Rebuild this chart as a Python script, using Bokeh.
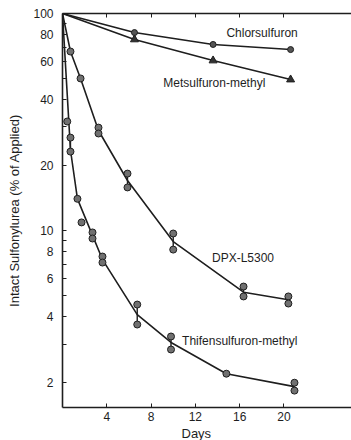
from bokeh.plotting import figure
from bokeh.models import FixedTicker, LinearAxis, Title, ColumnDataSource
from bokeh.core.properties import value
from bokeh.embed import file_html
from bokeh.resources import INLINE
import pandas as pd

FONT = "Liberation Sans"

# ---- data ----
chl_days = [6.5, 13.6, 20.6]
chl_vals = [81.7, 72.0, 68.2]
chl_line_days = [0, 6.5, 13.6, 20.6]
chl_line_vals = [100, 81.7, 72.0, 68.2]

met_days = [6.5, 13.6, 20.6]
met_vals = [75.9, 60.7, 49.6]
met_line_days = [0, 6.5, 13.6, 20.6]
met_line_vals = [100, 75.9, 60.7, 49.6]

dpx_days = [0.72, 1.63, 3.25, 3.25, 5.87, 5.87, 10.0, 10.0, 16.35, 16.35, 20.4, 20.4]
dpx_vals = [66.8, 50.2, 29.8, 28.0, 18.3, 15.8, 9.69, 8.17, 5.52, 4.97, 4.97, 4.61]
dpx_line_days = [0, 0.72, 1.63, 3.25, 5.87, 10.0, 16.35, 20.4]
dpx_line_vals = [100, 66.8, 50.2, 28.9, 17.0, 8.9, 5.2, 4.8]

thi_days = [0.43, 0.72, 0.72, 1.35, 1.72, 2.71, 2.71, 3.61, 3.61, 6.75, 6.75, 9.8, 9.8, 14.8, 20.95, 20.95]
thi_vals = [31.8, 26.8, 23.1, 14.0, 10.9, 9.8, 9.19, 7.59, 7.12, 4.56, 3.69, 3.25, 2.83, 2.19, 1.99, 1.83]
thi_line_days = [0, 0.72, 1.35, 2.71, 3.61, 6.75, 9.8, 14.8, 20.95]
thi_line_vals = [100, 23.5, 14.0, 9.5, 7.35, 4.1, 3.05, 2.19, 1.91]

y_label_ticks = [2, 4, 6, 8, 10, 20, 40, 60, 80, 100]
y_minor_ticks = [3, 5, 7, 9, 30, 50, 70, 90]
x_ticks = [4, 8, 12, 16, 20]

# annotation texts: (text, day, value) placement
labels = [
    ("Chlorsulfuron", 14.8, 80.9),
    ("Metsulfuron-methyl", 9.1, 47.6),
    ("DPX-L5300", 13.5, 7.51),
    ("Thifensulfuron-methyl", 10.8, 3.1),
]

INK = "#1e1e1e"

p = figure(width=351, height=440, output_backend="svg", toolbar_location=None,
           y_axis_type="log", x_range=(0, 26.1), y_range=(1.53, 100),
           min_border_left=62, min_border_right=0, min_border_top=13, min_border_bottom=0)
p.outline_line_color = None
p.grid.visible = False
p.background_fill_color = "white"
p.border_fill_color = "white"

# left axis
ya = p.yaxis[0]
ya.ticker = FixedTicker(ticks=y_label_ticks, minor_ticks=y_minor_ticks)
ya.axis_label = "Intact Sulfonylurea (% of Applied)"
ya.axis_label_text_font = FONT
ya.axis_label_text_font_size = "13px"
ya.axis_label_text_font_style = "normal"
ya.axis_label_text_color = INK
ya.axis_label_standoff = 8
ya.major_label_text_font = FONT
ya.major_label_text_font_size = "12px"
ya.major_label_text_color = INK
ya.major_label_standoff = 9
ya.major_tick_in = 4
ya.major_tick_out = 0
ya.minor_tick_in = 4
ya.minor_tick_out = 0
ya.minor_tick_line_color = INK
ya.axis_line_width = 1.6
ya.axis_line_color = INK
ya.major_tick_line_color = INK

# bottom axis
xa = p.xaxis[0]
xa.ticker = FixedTicker(ticks=x_ticks)
xa.major_label_text_font = FONT
xa.major_label_text_font_size = "12px"
xa.major_label_text_color = INK
xa.major_label_standoff = 4
xa.major_tick_in = 4
xa.major_tick_out = 0
xa.minor_tick_line_color = None
xa.axis_line_width = 1.6
xa.axis_line_color = INK
xa.major_tick_line_color = INK

# top axis (ticks only, no labels)
top = LinearAxis(ticker=FixedTicker(ticks=[], minor_ticks=x_ticks),
                 major_label_standoff=0, major_tick_in=0, major_tick_out=0,
                 minor_tick_in=4, minor_tick_out=0, minor_tick_line_color=INK,
                 axis_line_width=1.6, axis_line_color=INK)
p.add_layout(top, "above")

# x axis title, placed like the reference (slightly left of centre)
p.add_layout(Title(text="Days", align="left", offset=119, text_font=FONT,
                   text_font_size="13px", text_font_style="normal", text_color=INK,
                   standoff=0, padding=0), "below")

# lines
for xs, ys in [(chl_line_days, chl_line_vals), (met_line_days, met_line_vals),
               (dpx_line_days, dpx_line_vals), (thi_line_days, thi_line_vals)]:
    p.line(xs, ys, line_color=INK, line_width=1.6)

# replicate ranges
for xs, ys in [(dpx_days, dpx_vals), (thi_days, thi_vals)]:
    df = pd.DataFrame({"d": xs, "v": ys}).groupby("d")["v"].agg(["min", "max", "count"]).reset_index()
    df = df[df["count"] > 1]
    p.segment(x0=df["d"], y0=df["min"], x1=df["d"], y1=df["max"], line_color=INK, line_width=1.4)

# markers
p.scatter(chl_days, chl_vals, marker="circle", size=6, fill_color="#555555", line_color=INK, line_width=1)
p.scatter(met_days, met_vals, marker="triangle", size=8, fill_color="#333333", line_color=INK, line_width=1)
p.scatter(dpx_days, dpx_vals, marker="circle", size=7, fill_color="#707070", line_color=INK, line_width=1)
p.scatter(thi_days, thi_vals, marker="circle", size=7, fill_color="#707070", line_color=INK, line_width=1)

# curve labels
src = ColumnDataSource(dict(t=[l[0] for l in labels], x=[l[1] for l in labels], y=[l[2] for l in labels]))
p.text(x="x", y="y", text="t", source=src, text_font=value(FONT), text_font_size="12px",
       text_color=INK, text_align="left", text_baseline="middle")

open("out.html", "w").write(file_html(p, INLINE))
